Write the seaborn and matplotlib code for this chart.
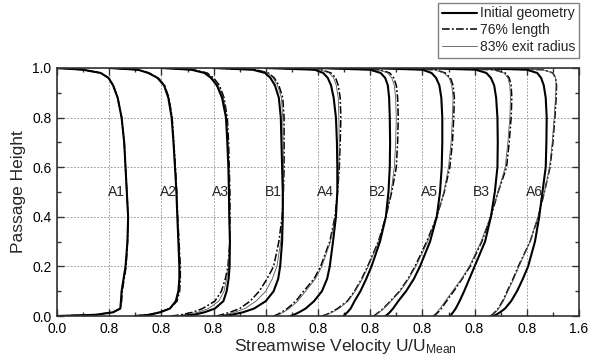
import numpy as np
import pandas as pd
import matplotlib
matplotlib.use('Agg')
import matplotlib.pyplot as plt
import seaborn as sns
from matplotlib.lines import Line2D
from matplotlib.ticker import MultipleLocator, FixedLocator, FormatStrFormatter

# ── Data ──────────────────────────────────────────────────────────────────
profiles = ['A1', 'A2', 'A3', 'B1', 'A4', 'B2', 'A5', 'B3', 'A6']
spacing = 0.8   # each profile is shifted by 0.8 velocity units

y_levels = [0.0, 0.005, 0.015, 0.03, 0.06, 0.1, 0.15, 0.2, 0.3, 0.4,
            0.5, 0.6, 0.7, 0.8, 0.88, 0.93, 0.96, 0.98, 0.993, 1.0]

u_initial = [
    [0.00, 0.60, 0.86, 0.97, 0.98, 0.99, 1.02, 1.05, 1.08, 1.09, 1.07, 1.05, 1.03, 0.99, 0.93, 0.86, 0.79, 0.67, 0.40, 0.00],
    [0.40, 0.62, 0.78, 0.93, 1.02, 1.06, 1.075, 1.075, 1.06, 1.044, 1.03, 1.008, 0.985, 0.957, 0.906, 0.84, 0.74, 0.60, 0.44, 0.00],
    [0.30, 0.50, 0.66, 0.82, 0.95, 1.00, 1.03, 1.045, 1.05, 1.04, 1.035, 1.026, 1.01, 0.99, 0.93, 0.85, 0.76, 0.66, 0.46, 0.00],
    [0.15, 0.28, 0.45, 0.62, 0.80, 0.92, 0.99, 1.02, 1.05, 1.06, 1.06, 1.05, 1.04, 1.03, 1.00, 0.94, 0.87, 0.79, 0.60, 0.00],
    [0.38, 0.43, 0.51, 0.61, 0.74, 0.86, 0.94, 0.98, 1.03, 1.075, 1.096, 1.096, 1.09, 1.075, 1.04, 1.00, 0.95, 0.88, 0.75, 0.00],
    [0.39, 0.41, 0.45, 0.50, 0.56, 0.65, 0.74, 0.82, 0.95, 1.04, 1.08, 1.10, 1.105, 1.10, 1.09, 1.07, 1.03, 0.96, 0.80, 0.00],
    [0.23, 0.26, 0.30, 0.35, 0.43, 0.55, 0.67, 0.763, 0.917, 1.02, 1.07, 1.096, 1.105, 1.105, 1.09, 1.06, 1.01, 0.94, 0.80, 0.00],
    [0.42, 0.44, 0.47, 0.51, 0.57, 0.64, 0.72, 0.80, 0.96, 1.05, 1.11, 1.15, 1.155, 1.15, 1.13, 1.10, 1.05, 0.98, 0.82, 0.00],
    [0.29, 0.33, 0.39, 0.466, 0.56, 0.65, 0.74, 0.82, 0.925, 0.99, 1.04, 1.09, 1.10, 1.105, 1.09, 1.06, 1.02, 0.96, 0.80, 0.00],
]

u_length76 = [
    [0.00, 0.58, 0.85, 0.97, 0.99, 1.00, 1.03, 1.06, 1.08, 1.09, 1.07, 1.05, 1.03, 0.99, 0.93, 0.86, 0.79, 0.67, 0.40, 0.00],
    [0.38, 0.60, 0.77, 0.93, 1.04, 1.08, 1.09, 1.09, 1.07, 1.05, 1.035, 1.015, 0.99, 0.965, 0.915, 0.85, 0.75, 0.61, 0.45, 0.00],
    [0.15, 0.30, 0.48, 0.63, 0.82, 0.92, 0.98, 1.02, 1.05, 1.05, 1.05, 1.04, 1.03, 1.01, 0.96, 0.89, 0.80, 0.70, 0.50, 0.00],
    [0.05, 0.12, 0.25, 0.40, 0.56, 0.70, 0.82, 0.92, 1.00, 1.05, 1.07, 1.08, 1.08, 1.08, 1.06, 1.00, 0.93, 0.84, 0.65, 0.00],
    [0.12, 0.17, 0.24, 0.33, 0.46, 0.58, 0.74, 0.84, 0.98, 1.06, 1.10, 1.127, 1.14, 1.15, 1.14, 1.11, 1.07, 1.00, 0.85, 0.00],
    [0.06, 0.12, 0.20, 0.30, 0.45, 0.56, 0.67, 0.76, 0.925, 1.04, 1.13, 1.20, 1.22, 1.23, 1.22, 1.20, 1.16, 1.10, 0.95, 0.00],
    [0.05, 0.08, 0.13, 0.20, 0.31, 0.45, 0.58, 0.687, 0.866, 1.02, 1.135, 1.22, 1.26, 1.28, 1.29, 1.27, 1.23, 1.15, 1.00, 0.00],
    [0.17, 0.20, 0.24, 0.29, 0.37, 0.48, 0.61, 0.73, 0.91, 1.05, 1.16, 1.29, 1.33, 1.36, 1.37, 1.36, 1.33, 1.27, 1.10, 0.00],
    [0.24, 0.27, 0.31, 0.36, 0.43, 0.50, 0.59, 0.67, 0.85, 0.976, 1.07, 1.156, 1.20, 1.23, 1.25, 1.256, 1.24, 1.20, 1.05, 0.00],
]

u_radius83 = [
    [0.00, 0.60, 0.86, 0.97, 0.98, 0.99, 1.02, 1.05, 1.08, 1.09, 1.07, 1.05, 1.03, 0.99, 0.93, 0.86, 0.79, 0.67, 0.40, 0.00],
    [0.39, 0.61, 0.78, 0.93, 1.03, 1.07, 1.08, 1.08, 1.065, 1.047, 1.032, 1.01, 0.988, 0.96, 0.91, 0.845, 0.745, 0.605, 0.445, 0.00],
    [0.20, 0.38, 0.56, 0.72, 0.88, 0.96, 1.00, 1.03, 1.045, 1.045, 1.04, 1.035, 1.02, 1.00, 0.95, 0.87, 0.78, 0.68, 0.48, 0.00],
    [0.08, 0.18, 0.32, 0.48, 0.65, 0.80, 0.90, 0.97, 1.03, 1.06, 1.07, 1.07, 1.065, 1.06, 1.04, 0.98, 0.91, 0.83, 0.63, 0.00],
    [0.15, 0.20, 0.27, 0.36, 0.49, 0.61, 0.76, 0.86, 0.99, 1.065, 1.10, 1.12, 1.125, 1.12, 1.11, 1.08, 1.04, 0.97, 0.83, 0.00],
    [0.08, 0.13, 0.22, 0.32, 0.46, 0.57, 0.68, 0.77, 0.93, 1.04, 1.12, 1.17, 1.19, 1.20, 1.19, 1.17, 1.13, 1.07, 0.92, 0.00],
    [0.06, 0.09, 0.14, 0.21, 0.32, 0.46, 0.59, 0.70, 0.88, 1.02, 1.13, 1.20, 1.24, 1.26, 1.27, 1.25, 1.21, 1.13, 0.98, 0.00],
    [0.15, 0.18, 0.22, 0.27, 0.35, 0.46, 0.60, 0.72, 0.90, 1.04, 1.16, 1.27, 1.31, 1.34, 1.35, 1.34, 1.31, 1.25, 1.08, 0.00],
    [0.25, 0.28, 0.32, 0.37, 0.44, 0.51, 0.60, 0.68, 0.85, 0.97, 1.07, 1.15, 1.19, 1.22, 1.24, 1.25, 1.24, 1.20, 1.05, 0.00],
]

series_names = ['Initial geometry', '76% length', '83% exit radius']
x_ticklabels = ['0.0'] + ['0.8'] * 9 + ['1.6']

# ── Long table ────────────────────────────────────────────────────────────
rows = []
for name, table in zip(series_names, [u_initial, u_length76, u_radius83]):
    for i, prof in enumerate(profiles):
        for y, u in zip(y_levels, table[i]):
            rows.append({'series': name, 'profile': prof,
                         'x': spacing * i + u, 'y': y})
df = pd.DataFrame(rows)

# ── Style ─────────────────────────────────────────────────────────────────
sns.set_style('ticks')
plt.rcParams['font.family'] = ['Liberation Sans', 'DejaVu Sans']
plt.rcParams['mathtext.fontset'] = 'custom'
plt.rcParams['mathtext.rm'] = 'Liberation Sans'
plt.rcParams['mathtext.it'] = 'Liberation Sans'

styles = {
    '76% length':       dict(color='black', linewidth=1.1, linestyle=(0, (5, 1.5, 1.2, 1.5))),
    '83% exit radius':  dict(color='#555555', linewidth=0.6, linestyle='-'),
    'Initial geometry': dict(color='black', linewidth=1.5, linestyle='-'),
}

fig = plt.figure(figsize=(5.92, 3.6), dpi=100)
ax = fig.add_axes([57 / 592, 44 / 360, 522 / 592, 248 / 360])

for name, kw in styles.items():
    sns.lineplot(data=df[df['series'] == name], x='x', y='y', units='profile',
                 estimator=None, sort=False, ax=ax, legend=False, **kw)

# ── Axes ──────────────────────────────────────────────────────────────────
ax.set_xlim(0, spacing * 10)
ax.set_ylim(0, 1)
ax.xaxis.set_major_locator(FixedLocator([spacing * k for k in range(11)]))
ax.set_xticklabels(x_ticklabels)
ax.xaxis.set_minor_locator(MultipleLocator(spacing / 2))
ax.yaxis.set_major_locator(MultipleLocator(0.2))
ax.yaxis.set_minor_locator(MultipleLocator(0.1))
ax.yaxis.set_major_formatter(FormatStrFormatter('%.1f'))

ax.tick_params(which='both', direction='in', top=True, right=True,
               color='#333333', labelsize=10, labelcolor='black')
ax.tick_params(which='major', length=5, width=1, pad=4)
ax.tick_params(which='minor', length=3, width=1)
for s in ax.spines.values():
    s.set_linewidth(1.2)
    s.set_color('#333333')

ax.grid(True, which='major', color='#8a8a8a', linewidth=0.6,
        linestyle=(0, (2, 2)))
ax.set_axisbelow(True)

for i, prof in enumerate(profiles):
    ax.text(spacing * i + 0.91, 0.5, prof, ha='center', va='center',
            fontsize=10)

ax.set_xlabel(r'Streamwise Velocity U/U$_{\mathrm{Mean}}$', fontsize=12.5)
ax.xaxis.set_label_coords(0.553, -0.085)
ax.set_ylabel('Passage Height', fontsize=12.5)
ax.yaxis.set_label_coords(-0.06, 0.5)

handles = [Line2D([], [], **styles[n]) for n in series_names]
fig.legend(handles, series_names, loc='upper right',
           bbox_to_anchor=(579 / 592, 1 - 3 / 360),
           frameon=True, fancybox=False, framealpha=1,
           edgecolor='#808080', fontsize=10, handlelength=2.5,
           handletextpad=0.25, labelspacing=0.2, borderpad=0.25,
           borderaxespad=0)

fig.savefig('out.png', dpi=100, facecolor='white')
